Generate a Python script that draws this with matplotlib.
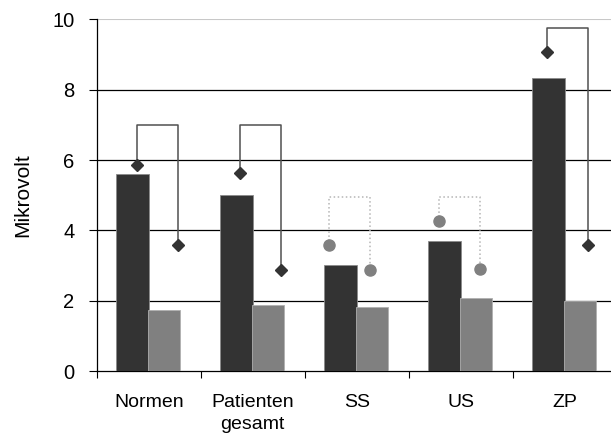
import numpy as np
from matplotlib import pyplot as plt

plt.rcParams['font.family'] = ['Liberation Sans', 'DejaVu Sans']

#Daten
gruppen = ['Normen', 'Patienten\ngesamt', 'SS', 'US', 'ZP']
balken_dunkel = [5.6, 5.02, 3.03, 3.71, 8.33]
balken_hell = [1.73, 1.89, 1.84, 2.07, 2.0]
punkt_links = [5.87, 5.64, 3.58, 4.26, 9.06]
punkt_rechts = [3.58, 2.89, 2.89, 2.91, 3.58]
klammer_oben = [7.0, 7.0, 4.95, 4.96, 9.74]
symbol = ['D', 'D', 'o', 'o', 'D']

#Lage der Punkte relativ zur Gruppenmitte
versatz = [-0.115, -0.125, -0.266, -0.21, -0.17]
abstand = 0.394

x = np.arange(len(gruppen))

fig = plt.figure(figsize=(6.11, 4.45), dpi=100)
ax = fig.add_axes([96.7/611, 73.7/445, 1 - 96.7/611, 352/445])

ax.bar(x - 0.155, balken_dunkel, width=0.31, color='#333333', edgecolor='#8a8a8a', linewidth=0.6, zorder=3)
ax.bar(x + 0.15, balken_hell, width=0.31, color='#808080', edgecolor='#b0b0b0', linewidth=0.6, zorder=3)

for i in range(len(gruppen)):
    xl = x[i] + versatz[i]
    xr = xl + abstand
    if symbol[i] == 'D':
        lc, ls, mc, ms = '#505050', '-', '#333333', 6
    else:
        lc, ls, mc, ms = '#b5b5b5', ':', '#808080', 8
    ax.plot([xl, xl, xr, xr], [punkt_links[i], klammer_oben[i], klammer_oben[i], punkt_rechts[i]],
            color=lc, linestyle=ls, linewidth=1.1, zorder=4)
    ax.plot([xl, xr], [punkt_links[i], punkt_rechts[i]], linestyle='none', marker=symbol[i],
            color=mc, markersize=ms, zorder=5)

ax.set_xlim(-0.5, -0.5 + 514.3/104)
ax.set_ylim(0, 10)
ax.set_yticks([0, 2, 4, 6, 8, 10])
ax.tick_params(axis='y', labelsize=14.5, length=6, width=0.8, direction='out', pad=10)
ax.set_xticks(np.arange(len(gruppen)) - 0.5)
ax.set_xticklabels([])
ax.tick_params(axis='x', length=5, width=0.8, direction='out')
ax.set_xticks(x, minor=True)
ax.set_xticklabels(gruppen, minor=True, fontsize=14, linespacing=1.45)
ax.tick_params(axis='x', which='minor', length=0, pad=16)

for g in [2, 4, 6, 8]:
    ax.axhline(g, color='black', linewidth=0.9, zorder=1)
ax.axhline(10, color='#c8c8c8', linewidth=1.5, zorder=1)

ax.spines['top'].set_visible(False)
ax.spines['right'].set_visible(False)
ax.spines['left'].set_linewidth(0.9)
ax.spines['bottom'].set_linewidth(0.9)

ax.set_ylabel('Mikrovolt', fontsize=15)
ax.yaxis.set_label_coords(-0.126, 0.5)

plt.savefig('out.png', dpi=100)
